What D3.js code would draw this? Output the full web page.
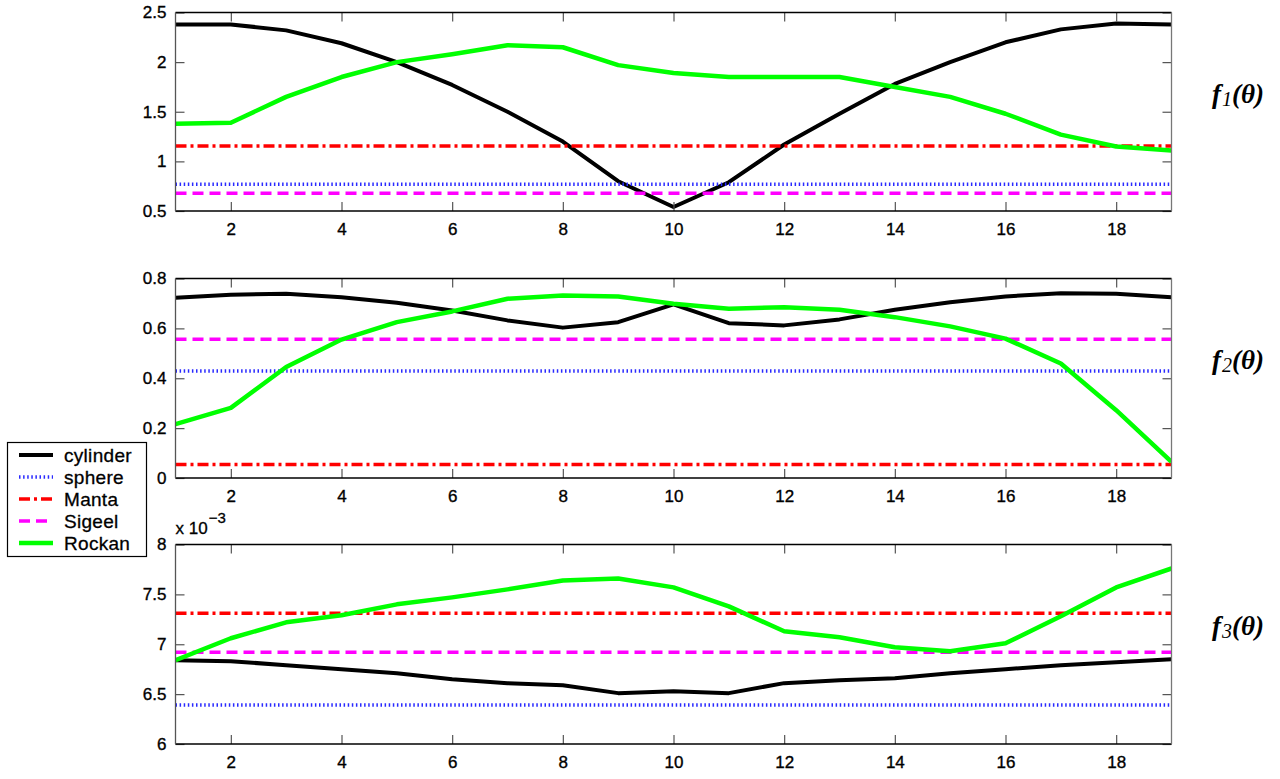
<!DOCTYPE html>
<html><head><meta charset="utf-8">
<script src="https://cdn.jsdelivr.net/npm/d3@7"></script>
<style>body{margin:0;background:#fff} svg{display:block}</style>
</head><body><svg id="c" width="1280" height="779"></svg>
<script>
// ---------- data ----------
const theta = [1,2,3,4,5,6,7,8,9,10,11,12,13,14,15,16,17,18,19];
const seriesNames = ["cylinder","sphere","Manta","Sigeel","Rockan"];

const f1Cylinder = [2.38,2.38,2.32,2.19,2.00,1.77,1.50,1.20,0.80,0.54,0.79,1.17,1.48,1.78,2.00,2.20,2.33,2.39,2.38];
const f1Rockan   = [1.38,1.39,1.65,1.85,2.00,2.08,2.17,2.15,1.97,1.89,1.85,1.85,1.85,1.75,1.65,1.48,1.27,1.15,1.11];
const f1Sphere = 0.77, f1Manta = 1.155, f1Sigeel = 0.68;

const f2Cylinder = [0.723,0.735,0.739,0.725,0.703,0.672,0.632,0.603,0.625,0.696,0.621,0.612,0.636,0.675,0.705,0.728,0.741,0.739,0.725];
const f2Rockan   = [0.216,0.281,0.445,0.555,0.625,0.668,0.719,0.732,0.728,0.699,0.679,0.685,0.675,0.645,0.608,0.559,0.459,0.272,0.065];
const f2Sphere = 0.429, f2Manta = 0.054, f2Sigeel = 0.556;

const f3Cylinder = [6.84e-3,6.83e-3,6.79e-3,6.75e-3,6.71e-3,6.65e-3,6.61e-3,6.59e-3,6.51e-3,6.53e-3,6.51e-3,6.61e-3,6.64e-3,6.66e-3,6.71e-3,6.75e-3,6.79e-3,6.82e-3,6.85e-3];
const f3Rockan   = [6.84e-3,7.06e-3,7.22e-3,7.29e-3,7.40e-3,7.47e-3,7.55e-3,7.64e-3,7.66e-3,7.57e-3,7.38e-3,7.13e-3,7.07e-3,6.97e-3,6.93e-3,7.01e-3,7.28e-3,7.57e-3,7.76e-3];
const f3Sphere = 6.39e-3, f3Manta = 7.31e-3, f3Sigeel = 6.92e-3;

const xTicks  = [2,4,6,8,10,12,14,16,18];
const f1Ticks = [0.5,1,1.5,2,2.5];
const f2Ticks = [0,0.2,0.4,0.6,0.8];
const f3Ticks = [6e-3,6.5e-3,7e-3,7.5e-3,8e-3];
const f1Labels = ["0.5","1","1.5","2","2.5"];
const f2Labels = ["0","0.2","0.4","0.6","0.8"];
const f3Labels = ["6","6.5","7","7.5","8"];

// ---------- styles ----------
const styles = {
  cylinder: {color:"#000000", width:4,   dash:null},
  sphere:   {color:"#2a2aff", width:3.5, dash:"1.5,2.6"},
  Manta:    {color:"#ff0000", width:3.5, dash:"11,4,3,4"},
  Sigeel:   {color:"#ff00ff", width:3.5, dash:"11,6"},
  Rockan:   {color:"#00ff00", width:4.5, dash:null}
};

const svg = d3.select("#c");
const X0 = 175.5, X1 = 1171.5;
const x = d3.scaleLinear().domain([theta[0], theta[theta.length-1]]).range([X0, X1]);

const panels = [
  {top:12.5, bottom:211, domain:[0.5,2.5], ticks:f1Ticks, labels:f1Labels,
   data:{cylinder:f1Cylinder, sphere:f1Sphere, Manta:f1Manta, Sigeel:f1Sigeel, Rockan:f1Rockan}, idx:"1"},
  {top:278.5, bottom:478, domain:[0,0.8], ticks:f2Ticks, labels:f2Labels,
   data:{cylinder:f2Cylinder, sphere:f2Sphere, Manta:f2Manta, Sigeel:f2Sigeel, Rockan:f2Rockan}, idx:"2"},
  {top:544.5, bottom:744, domain:[6e-3,8e-3], ticks:f3Ticks, labels:f3Labels,
   data:{cylinder:f3Cylinder, sphere:f3Sphere, Manta:f3Manta, Sigeel:f3Sigeel, Rockan:f3Rockan}, idx:"3", exp:true}
];

const tickFont = "'Liberation Sans', Arial, Helvetica, sans-serif";
const TL = 9;

panels.forEach((p, pi) => {
  const y = d3.scaleLinear().domain(p.domain).range([p.bottom, p.top]);
  const g = svg.append("g");

  const clipId = "clip" + pi;
  svg.append("clipPath").attr("id", clipId).append("rect")
    .attr("x", X0).attr("y", p.top).attr("width", X1 - X0).attr("height", p.bottom - p.top);

  // series
  const lg = g.append("g").attr("clip-path", `url(#${clipId})`);
  seriesNames.forEach(name => {
    const v = p.data[name];
    const vals = Array.isArray(v) ? v : theta.map(() => v);
    const st = styles[name];
    const line = d3.line().x((d,i) => x(theta[i])).y(d => y(d));
    lg.append("path").datum(vals)
      .attr("d", line).attr("fill","none")
      .attr("stroke", st.color).attr("stroke-width", st.width)
      .attr("stroke-dasharray", st.dash).attr("stroke-linejoin","round");
  });

  // axes
  const fmtY = d => p.labels[p.ticks.indexOf(d)];
  const ax = [
    {a:d3.axisBottom(x).tickValues(xTicks).tickSizeInner(-TL).tickSizeOuter(0).tickPadding(12), t:`translate(0,${p.bottom})`},
    {a:d3.axisTop(x).tickValues(xTicks).tickSizeInner(-TL).tickSizeOuter(0).tickFormat(""), t:`translate(0,${p.top})`},
    {a:d3.axisLeft(y).tickValues(p.ticks).tickSizeInner(-TL).tickSizeOuter(0).tickPadding(9).tickFormat(fmtY), t:`translate(${X0},0)`},
    {a:d3.axisRight(y).tickValues(p.ticks).tickSizeInner(-TL).tickSizeOuter(0).tickFormat(""), t:`translate(${X1},0)`}
  ];
  ax.forEach(o => {
    const ag = g.append("g").attr("transform", o.t).call(o.a);
    ag.select(".domain").remove();
    ag.selectAll("line").attr("stroke","#555").attr("stroke-width",1.2);
    ag.selectAll("text").attr("font-family", tickFont).attr("font-size", 17).attr("fill","#000")
      .attr("stroke","#000").attr("stroke-width",0.35);
  });

  // box
  g.append("line").attr("x1",X0).attr("x2",X1).attr("y1",p.top).attr("y2",p.top).attr("stroke","#000").attr("stroke-width",1.3);
  g.append("line").attr("x1",X0).attr("x2",X1).attr("y1",p.bottom).attr("y2",p.bottom).attr("stroke","#000").attr("stroke-width",1.3);
  g.append("line").attr("x1",X0).attr("x2",X0).attr("y1",p.top).attr("y2",p.bottom).attr("stroke","#555").attr("stroke-width",1.3);
  g.append("line").attr("x1",X1).attr("x2",X1).attr("y1",p.top).attr("y2",p.bottom).attr("stroke","#777").attr("stroke-width",1.3);

  // exponent label
  if (p.exp) {
    const t = svg.append("text").attr("x", X0).attr("y", p.top - 11)
      .attr("font-family", tickFont).attr("font-size", 17)
      .attr("stroke","#000").attr("stroke-width",0.3);
    t.append("tspan").text("x 10");
    t.append("tspan").attr("dx", 1).attr("dy", -11).attr("font-size", 15).text("\u22123");
  }

  // right label
  const mid = (p.top + p.bottom) / 2;
  const rt = svg.append("text").attr("x", 1212).attr("y", mid - 9)
    .attr("font-family", "'Liberation Serif', 'Times New Roman', serif")
    .attr("font-style","italic").attr("font-size", 27).attr("fill","#000");
  rt.append("tspan").attr("font-weight","bold").text("f");
  rt.append("tspan").attr("font-size", 20).attr("dy", 3).attr("dx", 1).text(p.idx);
  rt.append("tspan").attr("dy", -3).attr("font-weight","bold").text("(\u03b8)");
});

// legend
const leg = svg.append("g");
leg.append("rect").attr("x",7.5).attr("y",442.5).attr("width",139).attr("height",114)
  .attr("fill","#fff").attr("stroke","#000").attr("stroke-width",1.2);
seriesNames.forEach((name, i) => {
  const yy = 455 + i * 22;
  const st = styles[name];
  leg.append("line").attr("x1", 19).attr("x2", 53).attr("y1", yy).attr("y2", yy)
    .attr("stroke", st.color).attr("stroke-width", st.width).attr("stroke-dasharray", st.dash);
  leg.append("text").attr("x", 64).attr("y", yy).attr("dy","0.35em")
    .attr("font-family", tickFont).attr("font-size", 19).attr("letter-spacing", 0.3)
    .attr("stroke","#000").attr("stroke-width",0.3).text(name);
});
</script></body></html>
